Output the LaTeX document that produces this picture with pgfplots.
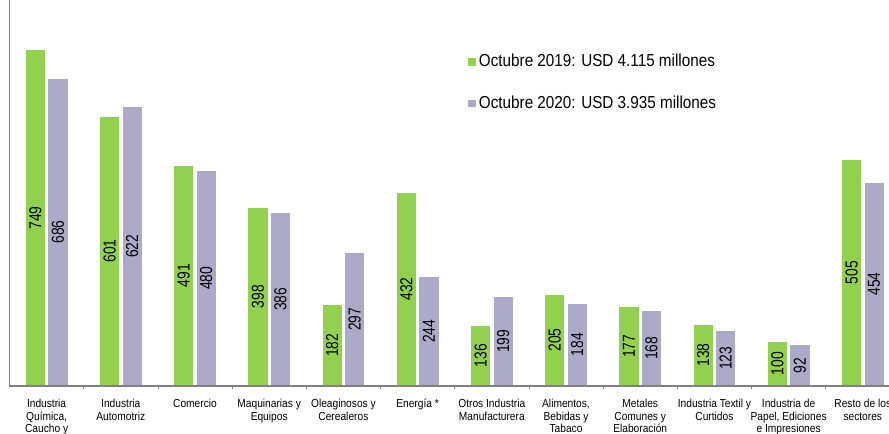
\documentclass[border=0pt]{standalone}
\usepackage{fontspec}
\setmainfont{Liberation Sans}[FakeStretch=0.88]
\newfontfamily\numfont{Liberation Sans}[FakeStretch=0.8]
\usepackage{pgfplots}
\pgfplotsset{compat=1.18}
\definecolor{verde}{RGB}{146,208,80}
\definecolor{lila}{RGB}{171,171,201}
\definecolor{eje}{RGB}{128,128,128}
\begin{document}
\begin{tikzpicture}
\path[use as bounding box, clip] (0,0) rectangle (666.75pt,-325.5pt);
\begin{axis}[
  at={(7.125pt,-289.5pt)}, anchor=south west,
  scale only axis, width=659.625pt, height=289.5pt,
  xmin=-0.5, xmax=11.353, ymin=0, ymax=860,
  axis lines*=left, axis on top,
  axis line style={eje, line width=1pt},
  ytick=\empty,
  xtick={0,...,11},
  xticklabels={{Industria\\Química,\\Caucho y},{Industria\\Automotriz},{Comercio},{Maquinarias y\\Equipos},{Oleaginosos y\\Cerealeros},{Energía *},{Otros Industria\\Manufacturera},{Alimentos,\\Bebidas y\\Tabaco},{Metales\\Comunes y\\Elaboración},{Industria Textil y\\Curtidos},{Industria de\\Papel, Ediciones\\e Impresiones},{Resto de los\\sectores}},
  major x tick style={draw=none},
  minor xtick={0.5,1.5,...,10.5},
  minor x tick style={eje, line width=0.6pt},
  minor tick length=2.5pt,
  tick align=inside,
  xticklabel style={align=center, font=\fontsize{8.7}{9.5}\selectfont, yshift=-2pt},
  ybar, bar width=15.2pt,
  clip=false,
  legend style={at={(rel axis cs:0.515,0.874)}, anchor=north west, draw=none, fill=none,
    font=\fontsize{13}{15}\selectfont, row sep=16.5pt, cells={anchor=west}},
  legend image code/.code={\fill[#1] (-1.5pt,-3.3pt) rectangle (5.1pt,3.3pt);},
  /pgf/number format/assume math mode=true,
  visualization depends on=y \as \yv,
  nodes near coords,
  every node near coord/.append style={shift={(axis direction cs:0,-\yv/2)}, rotate=90, anchor=center,
    font=\numfont\fontsize{13}{13}\selectfont, text=black},
]
\addplot[fill=verde, draw=white, line width=0.6pt, bar shift=-8.45pt] coordinates {
(0,749) (1,601) (2,491) (3,398) (4,182) (5,432) (6,136) (7,205) (8,177) (9,138) (10,100) (11,505)};
\addplot[fill=lila, draw=white, line width=0.6pt, bar shift=8.45pt] coordinates {
(0,686) (1,622) (2,480) (3,386) (4,297) (5,244) (6,199) (7,184) (8,168) (9,123) (10,92) (11,454)};
\legend{Octubre 2019: USD 4.115 millones, Octubre 2020: USD 3.935 millones}
\end{axis}
\end{tikzpicture}
\end{document}
